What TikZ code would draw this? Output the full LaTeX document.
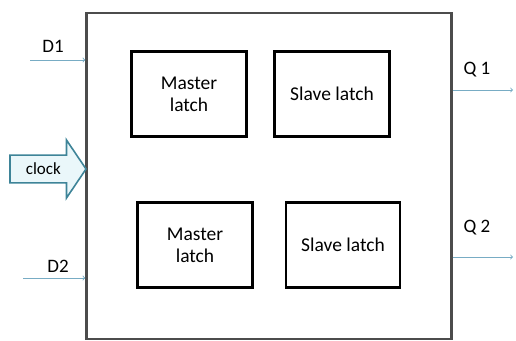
\documentclass[tikz,border=0pt]{standalone}
\usepackage{fontspec}
\setmainfont{Carlito}
\usepackage{xcolor}
\usetikzlibrary{shapes.arrows}
\definecolor{wireblue}{RGB}{120,172,196}
\definecolor{clkedge}{RGB}{62,132,152}
\definecolor{clkfill}{RGB}{234,247,250}

\begin{document}
\begin{tikzpicture}[x=1pt,y=-1pt,
    latch/.style={draw=black,line width=2.4pt,minimum width=115pt,minimum height=85pt,align=center,font=\fontsize{19.5}{22}\selectfont},
    wire/.style={draw=wireblue,line width=0.9pt,->},
    pin/.style={font=\fontsize{19}{21}\selectfont,inner sep=1pt}]
    \useasboundingbox (0,0) rectangle (516,340);
    % outer block
    \node[draw=black!70,line width=2.4pt,minimum width=365pt,minimum height=326pt,inner sep=0pt] (blk) at (269,176) {};
    % latches
    \node[latch] (m1) at (189,94) {Master\\latch};
    \node[latch] (s1) at (332,94) {Slave latch};
    \node[latch] (m2) at (195,245) {Master\\latch};
    \node[latch,minimum width=114pt] (s2) at (343,245) {Slave latch};
    % inputs
    \coordinate (d1in) at (30,60);
    \coordinate (d2in) at (23,278);
    \draw[wire] (d1in) -- (blk.west |- d1in);
    \draw[wire] (d2in) -- (blk.west |- d2in);
    \node[pin] (d1) at (53,46) {D1};
    \node[pin] (d2) at (58,266) {D2};
    % clock
    \node[single arrow,draw=clkedge,fill=clkfill,line width=1.6pt,anchor=tip,
      minimum height=76pt,minimum width=58pt,single arrow head extend=15pt,
      single arrow tip angle=112,
      inner xsep=1pt,inner ysep=7pt,font=\fontsize{17}{19}\selectfont] (clk) at (87,169) {clock};
    % outputs
    \coordinate (q1out) at (513,90);
    \coordinate (q2out) at (513,257);
    \draw[wire] (blk.east |- q1out) -- (q1out);
    \draw[wire] (blk.east |- q2out) -- (q2out);
    \node[pin] (q1) at (477,70) {Q 1};
    \node[pin] (q2) at (477,228) {Q 2};
\end{tikzpicture}
\end{document}
